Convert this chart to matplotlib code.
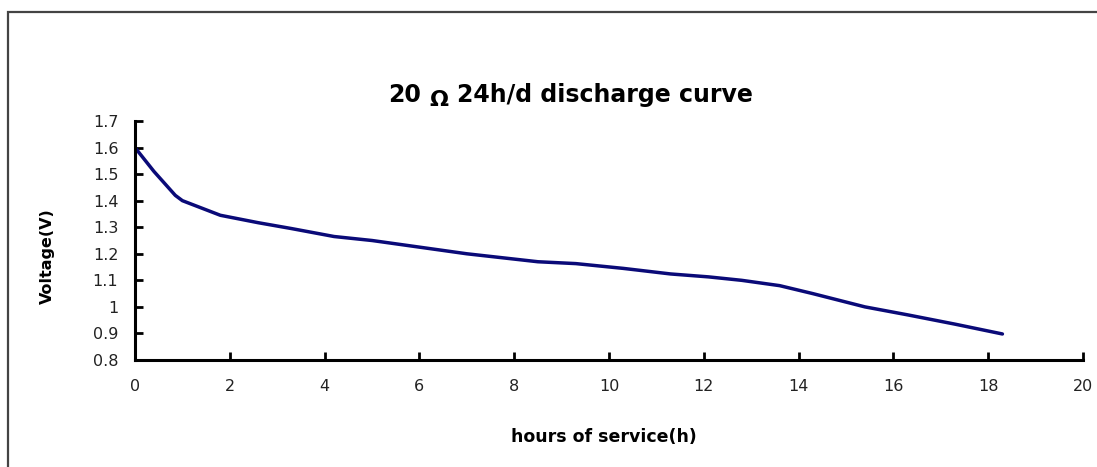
import matplotlib
matplotlib.use('Agg')
import matplotlib.pyplot as plt
from matplotlib.patches import Rectangle

plt.rcParams['font.family'] = ['DejaVu Sans']

# --- discharge curve
hours = [0.0, 0.4, 0.85, 1.0, 1.8, 2.6, 3.3, 4.2, 5.0, 6.0, 7.0, 8.5, 9.3,
         10.3, 11.3, 12.1, 12.8, 13.6, 14.3, 15.4, 16.3, 17.3, 18.3]
voltage = [1.60, 1.51, 1.42, 1.40, 1.345, 1.317, 1.295, 1.265, 1.25, 1.225,
           1.20, 1.17, 1.163, 1.145, 1.124, 1.113, 1.10, 1.08, 1.05, 1.00,
           0.97, 0.935, 0.898]

x_ticks = list(range(0, 21, 2))
y_ticks = [0.8, 0.9, 1.0, 1.1, 1.2, 1.3, 1.4, 1.5, 1.6, 1.7]
y_ticklabels = ['0.8', '0.9', '1', '1.1', '1.2', '1.3', '1.4', '1.5', '1.6', '1.7']

W, H = 1097, 467
fig = plt.figure(figsize=(W / 100, H / 100), dpi=100)

# outer frame
fig.patches.append(Rectangle((8 / W, -0.05), 1.2, 1 - 12 / H + 0.05,
                             transform=fig.transFigure, fill=False,
                             edgecolor='#444444', linewidth=1.6))

ax = fig.add_axes([135 / W, 1 - 360 / H, (1083 - 135) / W, (360 - 121) / H])
ax.plot(hours, voltage, color='#0a0a78', linewidth=2.5, solid_capstyle='round')

ax.set_xlim(0, 20)
ax.set_ylim(0.8, 1.7)
ax.set_xticks(x_ticks)
ax.set_yticks(y_ticks)
ax.set_yticklabels(y_ticklabels)

for s in ['top', 'right']:
    ax.spines[s].set_visible(False)
for s in ['left', 'bottom']:
    ax.spines[s].set_linewidth(2.2)
ax.tick_params(direction='in', length=6, width=2, labelsize=11.5,
               labelcolor='#222222')
ax.tick_params(axis='x', pad=14)
ax.tick_params(axis='y', pad=12)
ax.patch.set_alpha(0)

fig.text(604 / W, 1 - 437 / H, 'hours of service(h)', ha='center', va='center',
         fontsize=12.5, fontweight='bold')
fig.text(47 / W, 1 - 256 / H, 'Voltage(V)', ha='center', va='center',
         rotation=90, fontsize=11.5, fontweight='bold')

# title in pieces, omega sits a bit low
fig.text(421 / W, 1 - 95 / H, '20', ha='right', va='center',
         fontsize=17, fontweight='bold')
fig.text(439 / W, 1 - 100 / H, 'Ω', ha='center', va='center',
         fontsize=16, fontweight='bold')
fig.text(457 / W, 1 - 95 / H, '24h/d discharge curve', ha='left', va='center',
         fontsize=17, fontweight='bold')

fig.savefig('out.png', dpi=100)
